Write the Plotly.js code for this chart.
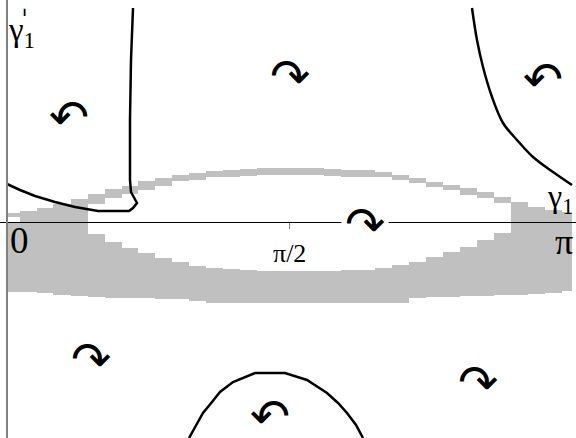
<!DOCTYPE html>
<html>
<head>
<meta charset="utf-8">
<script src="https://cdn.plot.ly/plotly-3.0.1.min.js"></script>
<style>
  html, body { margin: 0; padding: 0; background: #fff; }
  #plot { width: 576px; height: 438px; }
</style>
</head>
<body>
<div id="plot"></div>
<script>
// column edges of the shaded (gray) region, gamma_1 in radians
const gridEdges = [0, 0.0723, 0.1668, 0.2558, 0.3559, 0.4504, 0.5449, 0.6394, 0.7284, 0.8229,
  0.9174, 1.0120, 1.1065, 1.2010, 1.2956, 1.3901, 1.4846, 1.5736, 1.6681, 1.7626,
  1.8571, 1.9517, 2.0462, 2.1407, 2.2352, 2.3298, 2.4243, 2.5188, 2.6133, 2.7079,
  2.8024, 2.8969, 2.9914, 3.0860, 3.1416];

// outer edges of the gray band per column
const bandTop = [0.09, 0.11, 0.14, 0.18, 0.23, 0.28, 0.33, 0.36, 0.41, 0.44, 0.47, 0.49, 0.51, 0.52,
  0.53, 0.54, 0.54, 0.54, 0.54, 0.53, 0.52, 0.52, 0.50, 0.47, 0.44, 0.40, 0.37, 0.34, 0.30, 0.25,
  0.20, 0.15, 0.12, 0.10];
const bandBottom = [-0.70, -0.70, -0.71, -0.73, -0.74, -0.75, -0.76, -0.76, -0.76, -0.77, -0.77, -0.79,
  -0.81, -0.81, -0.81, -0.81, -0.81, -0.81, -0.81, -0.81, -0.81, -0.81, -0.81, -0.81,
  -0.76, -0.75, -0.75, -0.74, -0.74, -0.73, -0.73, -0.72, -0.71, -0.69];

// white hole (lens) inside the gray band
const lensTop = [0.05, null, null, null, null, 0.18, 0.24, 0.28, 0.32, 0.36, 0.41, 0.42, 0.45, 0.45,
  0.46, 0.47, 0.47, 0.47, 0.47, 0.46, 0.45, 0.45, 0.45, 0.42, 0.39, 0.35, 0.32, 0.27, 0.24, 0.19,
  null, null, null, null];
const lensBottom = [0.00, null, null, null, null, -0.12, -0.20, -0.26, -0.31, -0.36, -0.40, -0.44, -0.46,
  -0.47, -0.48, -0.49, -0.49, -0.49, -0.49, -0.49, -0.48, -0.48, -0.46, -0.43, -0.40, -0.35, -0.30,
  -0.25, -0.18, -0.11, null, null, null, null];

// separatrices
const leftCurveX = [0.7006, 0.6895, 0.6839, 0.6839, 0.6895, 0.7228, 0.7006, 0.6784, 0.5060, 0.3781, 0.2669, 0.1557, 0.0723, 0];
const leftCurveY = [2.14, 1.62, 1.02, 0.42, 0.30, 0.19, 0.14, 0.11, 0.11, 0.15, 0.20, 0.26, 0.32, 0.38];
const rightCurveX = [2.5855, 2.6133, 2.6467, 2.6968, 2.7579, 2.8358, 2.9247, 3.0359, 3.1416];
const rightCurveY = [2.14, 1.82, 1.55, 1.25, 0.99, 0.82, 0.65, 0.50, 0.37];
const bottomArcX = [1.0120, 1.0509, 1.0898, 1.1399, 1.1843, 1.2566, 1.3790, 1.5458, 1.6681, 1.7793, 1.8405, 1.8905, 1.9406, 1.9795];
const bottomArcY = [-2.16, -2.03, -1.91, -1.80, -1.70, -1.60, -1.51, -1.51, -1.58, -1.71, -1.81, -1.91, -2.03, -2.16];

// rotation markers
const arrowX = [0.3447, 1.5736, 2.9803, 1.9906, 0.4671, 1.4624, 2.6189];
const arrowY = [1.05, 1.46, 1.43, -0.02, -1.37, -1.94, -1.60];
const arrowSym = ['↶', '↷', '↶', '↷', '↷', '↶', '↷'];

const xRange = [-0.0389, 3.1638];
const yRange = [-2.16, 2.22];

const centers = gridEdges.slice(0, -1).map((e, i) => (e + gridEdges[i + 1]) / 2);
const widths = gridEdges.slice(0, -1).map((e, i) => gridEdges[i + 1] - e);
const lensIdx = lensTop.map((v, i) => v === null ? -1 : i).filter(i => i >= 0);

const traces = [
  { type: 'bar', x: centers, width: widths, base: bandBottom, y: bandTop.map((t, i) => t - bandBottom[i]),
    marker: { color: '#c0c0c0', line: { width: 0 } }, hoverinfo: 'skip' },
  { type: 'bar', x: lensIdx.map(i => centers[i]), width: lensIdx.map(i => widths[i]),
    base: lensIdx.map(i => lensBottom[i]), y: lensIdx.map(i => lensTop[i] - lensBottom[i]),
    marker: { color: '#ffffff', line: { width: 0 } }, hoverinfo: 'skip' },
  { x: leftCurveX, y: leftCurveY, mode: 'lines', line: { color: '#000', width: 2.5 } },
  { x: rightCurveX, y: rightCurveY, mode: 'lines', line: { color: '#000', width: 2.5, shape: 'spline' } },
  { x: bottomArcX, y: bottomArcY, mode: 'lines', line: { color: '#000', width: 2.5 } },
];

const serif = 'Liberation Serif';
const annotations = arrowSym.map((s, i) => ({
  x: arrowX[i], y: arrowY[i], text: s, showarrow: false,
  font: { family: 'DejaVu Sans', size: 48, color: '#000' },
  bgcolor: i === 3 ? '#ffffff' : 'rgba(0,0,0,0)', borderpad: i === 3 ? 3 : 0
}));
annotations.push(
  { x: 0.005, y: -0.18, text: '0', showarrow: false, xanchor: 'left', font: { family: serif, size: 37, color: '#000' } },
  { x: Math.PI / 2, y: -0.31, text: 'π/2', showarrow: false, font: { family: serif, size: 26, color: '#000' } },
  { x: 3.16, y: -0.2, text: 'π', showarrow: false, xanchor: 'right', font: { family: serif, size: 36, color: '#000' } },
  { x: 3.16, y: 0.24, text: 'γ<sub>1</sub>', showarrow: false, xanchor: 'right', font: { family: serif, size: 32, color: '#000' } },
  { x: -0.005, y: 1.90, text: 'γ<sub>1</sub>', showarrow: false, xanchor: 'left', font: { family: serif, size: 33, color: '#000' } },
  { x: 0.065, y: 2.02, text: 'ˈ', showarrow: false, xanchor: 'left', font: { family: 'DejaVu Sans', size: 26, color: '#000' } }
);

const axisPos = (0 - yRange[0]) / (yRange[1] - yRange[0]);

Plotly.newPlot('plot', traces, {
  width: 576, height: 438,
  margin: { l: 0, r: 0, t: 0, b: 0 },
  paper_bgcolor: '#fff', plot_bgcolor: '#fff',
  showlegend: false, barmode: 'overlay', bargap: 0,
  xaxis: { range: xRange, anchor: 'free', position: axisPos, showline: true, linecolor: '#000', linewidth: 1,
    ticks: 'outside', ticklen: 6, tickcolor: '#888', tickvals: [Math.PI / 2], showticklabels: false,
    showgrid: false, zeroline: false, layer: 'above traces', fixedrange: true },
  yaxis: { range: yRange, anchor: 'free', position: 7 / 576, showline: true, linecolor: '#808080', linewidth: 2,
    ticks: '', showticklabels: false, showgrid: false, zeroline: false, layer: 'above traces', fixedrange: true },
  annotations: annotations
}, { displayModeBar: false, staticPlot: true });
</script>
</body>
</html>
